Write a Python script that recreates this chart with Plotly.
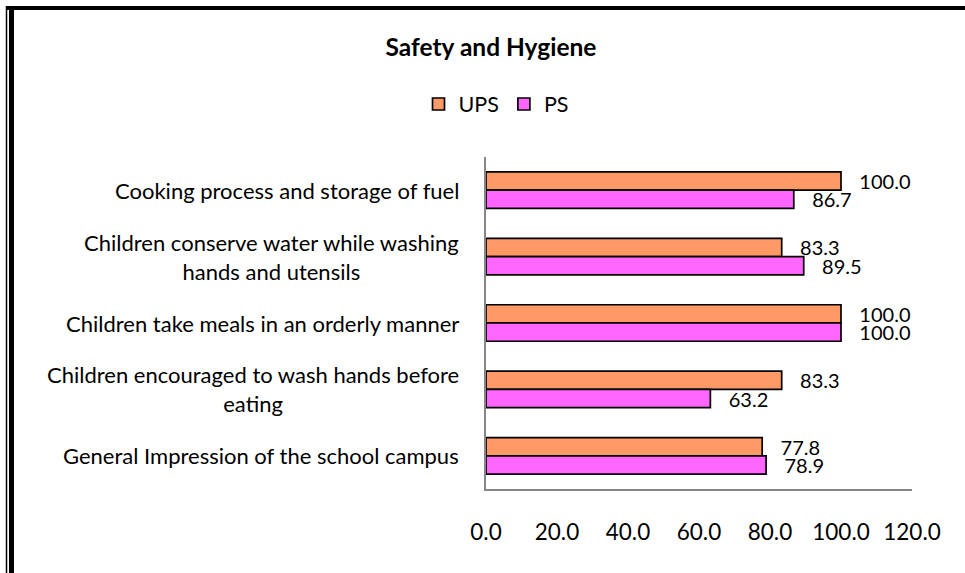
import plotly.graph_objects as go

categories = [
    "Cooking process and storage of fuel",
    "Children conserve water while washing<br>hands and utensils",
    "Children take meals in an orderly manner",
    "Children encouraged to wash hands before<br>eating",
    "General Impression of the school campus",
]
cat_keys = ["c1", "c2", "c3", "c4", "c5"]
ups = [100.0, 83.3, 100.0, 83.3, 77.8]
ps = [86.7, 89.5, 100.0, 63.2, 78.9]
tick_vals = [0, 20, 40, 60, 80, 100, 120]

FONT = "Lato"
NB = "\u00a0" * 3

fig = go.Figure()
fig.add_trace(go.Bar(
    name="UPS", y=cat_keys, x=ups, orientation="h",
    marker=dict(color="#FF9966", line=dict(color="black", width=1.7)),
    text=[NB + f"{v:.1f}" for v in ups], textposition="outside",
    textfont=dict(family=FONT, size=20, color="black"),
    constraintext="none", cliponaxis=False,
))
fig.add_trace(go.Bar(
    name="PS", y=cat_keys, x=ps, orientation="h",
    marker=dict(color="#FF66FF", line=dict(color="black", width=1.7)),
    text=[NB + f"{v:.1f}" for v in ps], textposition="outside",
    textfont=dict(family=FONT, size=20, color="black"),
    constraintext="none", cliponaxis=False,
))

for k, lab in zip(cat_keys, categories):
    fig.add_annotation(
        x=0, xref="paper", y=k, yref="y", text=lab, showarrow=False,
        xanchor="right", xshift=-25, align="center",
        font=dict(family=FONT, size=22, color="black"),
    )

W, H = 965, 573
L, R, T, B = 486, 53, 157, 84
pw, ph = W - L - R, H - T - B

def px2x(px):
    return (px - L) / pw

def py2y(py):
    return (H - B - py) / ph

shapes = [
    dict(type="line", xref="paper", yref="paper", x0=px2x(6), x1=px2x(970),
         y0=py2y(8), y1=py2y(8), line=dict(color="black", width=4)),
    dict(type="line", xref="paper", yref="paper", x0=px2x(6.5), x1=px2x(6.5),
         y0=py2y(6), y1=py2y(580), line=dict(color="black", width=1.5)),
    dict(type="line", xref="paper", yref="paper", x0=px2x(11.5), x1=px2x(11.5),
         y0=py2y(8), y1=py2y(580), line=dict(color="black", width=5)),
]

fig.update_layout(
    width=W, height=H,
    margin=dict(l=L, r=R, t=T, b=B),
    paper_bgcolor="white", plot_bgcolor="white",
    barmode="group", bargap=0.45, bargroupgap=0,
    font=dict(family=FONT, size=19, color="black"),
    title=dict(text="<b>Safety and Hygiene</b>", x=491 / W, xref="container",
               xanchor="center", y=1 - 47 / H, yanchor="middle",
               font=dict(family=FONT, size=24.5, color="black")),
    legend=dict(orientation="h", x=px2x(496), xanchor="center", y=py2y(104),
                yanchor="middle", font=dict(family=FONT, size=21.5),
                itemwidth=30, traceorder="normal"),
    shapes=shapes,
    xaxis=dict(range=[0, 120], tickvals=tick_vals, tickformat=".1f",
               showgrid=False, zeroline=False, showline=True,
               linecolor="#868686", linewidth=1.5, ticks="",
               ticklabelstandoff=22,
               tickfont=dict(family=FONT, size=22.5, color="black")),
    yaxis=dict(autorange="reversed", showticklabels=False, showgrid=False,
               zeroline=False, showline=True, linecolor="#868686",
               linewidth=1.5, ticks=""),
    showlegend=True,
)

fig.write_html("out.html", config={"displayModeBar": False},
               post_script="document.body.style.margin='0';")
